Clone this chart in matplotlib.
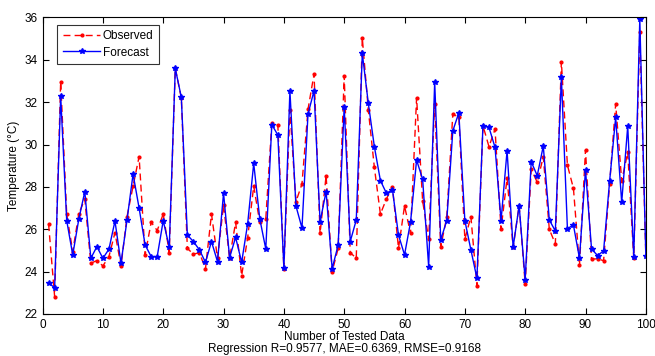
import numpy as np
import matplotlib.pyplot as plt

plt.rcParams['font.family'] = ['Liberation Sans', 'DejaVu Sans']

x = np.arange(1, 101)

observed = [
    26.24, 22.82, 32.97, 26.72, 24.95, 26.72, 27.43, 24.40, 24.52, 24.27,
    24.71, 25.84, 24.27, 26.60, 28.04, 29.43, 24.79, 26.33, 25.94, 26.72,
    24.90, 33.60, 32.20, 25.10, 24.82, 24.90, 24.13, 26.72, 24.63, 27.15,
    24.63, 26.33, 23.81, 25.61, 28.04, 26.33, 26.49, 31.00, 30.92, 24.13,
    31.63, 27.30, 28.14, 31.66, 33.33, 25.81, 28.53, 24.00, 25.10, 33.25,
    24.90, 24.63, 35.03, 31.63, 28.92, 26.72, 27.43, 28.01, 25.10, 27.10,
    25.81, 32.21, 27.34, 25.53, 31.91, 25.18, 26.57, 31.42, 31.31, 25.53,
    26.60, 23.33, 30.89, 29.90, 30.73, 26.00, 28.41, 25.15, 27.12, 23.41,
    28.83, 28.22, 29.43, 26.00, 25.31, 33.91, 29.03, 27.93, 24.29, 29.74,
    24.60, 24.60, 24.52, 28.14, 31.91, 28.28, 29.63, 24.63, 35.32, 24.76,
]

forecast = [
    23.45, 23.25, 32.29, 26.41, 24.79, 26.47, 27.78, 24.63, 25.18, 24.63,
    25.06, 26.39, 24.40, 26.44, 28.61, 27.00, 25.26, 24.71, 24.71, 26.41,
    25.15, 33.59, 32.23, 25.73, 25.42, 25.03, 24.44, 25.42, 24.47, 27.71,
    24.66, 25.62, 24.44, 26.27, 29.11, 26.50, 25.07, 30.94, 30.45, 24.18,
    32.54, 27.10, 26.06, 31.44, 32.54, 26.35, 27.78, 24.14, 25.26, 31.79,
    25.42, 26.44, 34.30, 31.94, 29.90, 28.30, 27.70, 27.86, 25.73, 24.79,
    26.35, 29.27, 28.36, 24.24, 32.95, 25.50, 26.41, 30.64, 31.50, 26.41,
    25.03, 23.69, 30.89, 30.81, 29.87, 26.41, 29.71, 25.15, 27.12, 23.61,
    29.19, 28.53, 29.93, 26.44, 25.92, 33.17, 26.03, 26.20, 24.63, 28.80,
    25.07, 24.76, 24.98, 28.28, 31.28, 27.27, 30.87, 24.71, 35.92, 24.76,
]

fig = plt.figure(figsize=(6.55, 3.56), dpi=100)
ax = fig.add_axes([0.065, 0.118, 0.921, 0.833])

ax.plot(x, observed, '--', color='red', lw=1, dashes=(5, 3), marker='.', ms=4,
        label='Observed')
ax.plot(x, forecast, '-', color='blue', lw=1, marker='*', ms=4, label='Forecast')

ax.set_xlim(0, 100)
ax.set_ylim(22, 36)
ax.set_xticks(range(0, 101, 10))
ax.set_yticks(range(22, 37, 2))
ax.tick_params(direction='in', top=True, right=True, labelsize=8.5, length=4)
ax.set_xlabel('Number of Tested Data\nRegression R=0.9577, MAE=0.6369, RMSE=0.9168',
              fontsize=8.5, labelpad=0, linespacing=1.05)
ax.set_ylabel('Temperature (°C)', fontsize=8.5, labelpad=3)

leg = ax.legend(loc='upper left', fontsize=8.5, fancybox=False, edgecolor='black',
                bbox_to_anchor=(0.0245, 0.974), borderaxespad=0,
                handlelength=3.2, handletextpad=0.2, borderpad=0.45, labelspacing=0.35)
leg.get_frame().set_linewidth(0.8)

fig.savefig('out.png', dpi=100)
